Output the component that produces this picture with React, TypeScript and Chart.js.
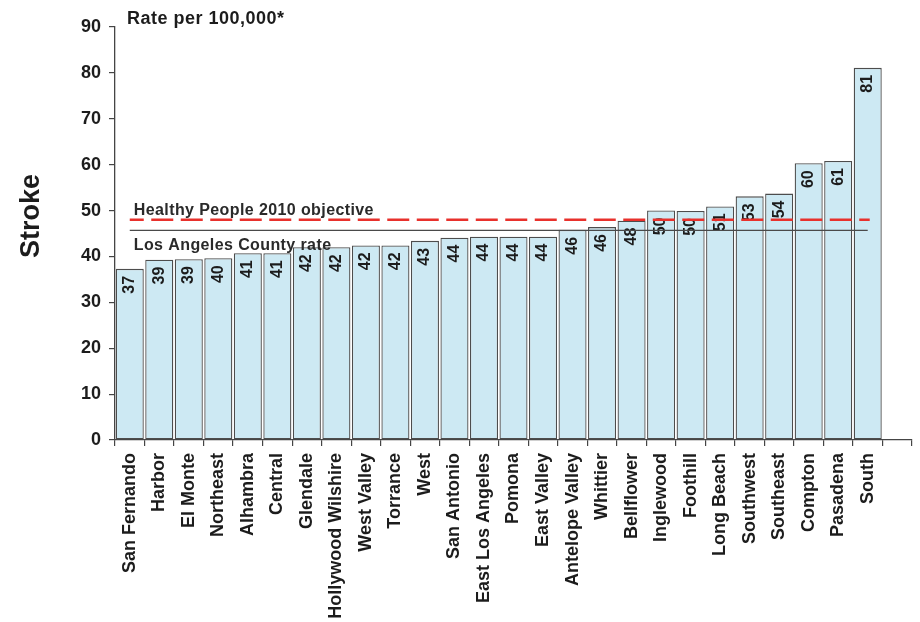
import React, { useEffect, useRef } from "react";
import { Chart, registerables } from "chart.js";

Chart.register(...registerables);

const FONT = '"Liberation Sans", Arial, Helvetica, sans-serif';

const CATEGORIES = [
  "San Fernando", "Harbor", "El Monte", "Northeast", "Alhambra", "Central",
  "Glendale", "Hollywood Wilshire", "West Valley", "Torrance", "West",
  "San Antonio", "East Los Angeles", "Pomona", "East Valley", "Antelope Valley",
  "Whittier", "Bellflower", "Inglewood", "Foothill", "Long Beach", "Southwest",
  "Southeast", "Compton", "Pasadena", "South", "",
];

const RATES = [
  37.3, 39.3, 39.4, 39.6, 40.7, 40.7, 42.0, 42.0, 42.4, 42.4, 43.4, 44.1, 44.3,
  44.3, 44.3, 45.8, 46.4, 47.8, 50.0, 49.9, 50.9, 53.1, 53.7, 60.3, 60.8, 81.1,
];

const Y_MIN = 0;
const Y_MAX = 90;
const Y_STEP = 10;

const HP_OBJECTIVE = 48.0;
const LA_COUNTY_RATE = 45.7;

const HP_LABEL = "Healthy People 2010 objective";
const LA_LABEL = "Los Angeles County rate";
const Y_TITLE = "Stroke";
const UNIT_TITLE = "Rate per 100,000*";

const TEXT = "#1c1c1c";
const AXIS = "#454545";

const overlayPlugin = {
  id: "overlay",
  afterDatasetsDraw(chart: any) {
    const { ctx } = chart;
    const x = chart.scales.x;
    const y = chart.scales.y;
    const meta = chart.getDatasetMeta(0);

    // value labels inside bars
    ctx.save();
    ctx.font = `bold 16px ${FONT}`;
    ctx.fillStyle = TEXT;
    meta.data.forEach((bar: any, i: number) => {
      const v = RATES[i];
      if (v == null) return;
      ctx.save();
      ctx.translate(bar.x, bar.y + 7);
      ctx.rotate(-Math.PI / 2);
      ctx.textAlign = "right";
      ctx.textBaseline = "middle";
      ctx.fillText(String(Math.round(v)), 0, 0);
      ctx.restore();
    });
    ctx.restore();

    // reference lines
    const x0 = x.getPixelForValue(0);
    const x1 = x.getPixelForValue(RATES.length - 1);
    const yLA = y.getPixelForValue(LA_COUNTY_RATE);
    const yHP = y.getPixelForValue(HP_OBJECTIVE);

    ctx.save();
    ctx.strokeStyle = "#4a4a4a";
    ctx.lineWidth = 1.3;
    ctx.beginPath();
    ctx.moveTo(x0, yLA);
    ctx.lineTo(x1, yLA);
    ctx.stroke();

    ctx.strokeStyle = "#e8312c";
    ctx.lineWidth = 2.5;
    ctx.setLineDash([22, 7.5]);
    ctx.lineDashOffset = 8;
    ctx.beginPath();
    ctx.moveTo(x0, yHP);
    ctx.lineTo(x1 + 2, yHP);
    ctx.stroke();
    ctx.restore();

    // reference line labels
    ctx.save();
    ctx.font = `bold 16px ${FONT}`;
    (ctx as any).letterSpacing = "0.4px";
    ctx.fillStyle = "#2a2a2a";
    ctx.textAlign = "left";
    ctx.textBaseline = "alphabetic";
    ctx.fillText(HP_LABEL, x0 + 4, yHP - 5);
    ctx.fillText(LA_LABEL, x0 + 4, yLA + 20);
    (ctx as any).letterSpacing = "0px";
    ctx.restore();
  },
  afterDraw(chart: any) {
    const { ctx } = chart;
    ctx.save();
    ctx.fillStyle = TEXT;
    ctx.font = `bold 27px ${FONT}`;
    ctx.translate(32, 216);
    ctx.rotate(-Math.PI / 2);
    ctx.textAlign = "center";
    ctx.textBaseline = "middle";
    ctx.fillText(Y_TITLE, 0, 0);
    ctx.restore();

    ctx.save();
    ctx.fillStyle = TEXT;
    ctx.font = `bold 18px ${FONT}`;
    (ctx as any).letterSpacing = "0.5px";
    ctx.textAlign = "left";
    ctx.textBaseline = "alphabetic";
    ctx.fillText(UNIT_TITLE, 127, 24);
    (ctx as any).letterSpacing = "0px";
    ctx.restore();
  },
};

export default function App() {
  const canvasRef = useRef<HTMLCanvasElement | null>(null);

  useEffect(() => {
    const canvas = canvasRef.current;
    if (!canvas) return;
    const chart = new Chart(canvas, {
      type: "bar",
      data: {
        labels: CATEGORIES,
        datasets: [
          {
            data: [...RATES, null],
            backgroundColor: "#cde9f3",
            borderColor: "#4d4d4d",
            borderWidth: 1.3,
            borderSkipped: false,
            categoryPercentage: 1,
            barPercentage: 0.95,
          } as any,
        ],
      },
      options: {
        responsive: false,
        animation: false,
        devicePixelRatio: 1,
        layout: { padding: { top: 27, right: 8, left: 0, bottom: 0 } },
        plugins: {
          legend: { display: false },
          tooltip: { enabled: false },
          title: { display: false },
        },
        scales: {
          x: {
            type: "category",
            offset: true,
            grid: {
              display: true,
              drawOnChartArea: false,
              drawTicks: true,
              tickLength: 6,
              offset: true,
              color: AXIS,
              lineWidth: 1.2,
            },
            border: { display: true, color: AXIS, width: 1.3 },
            ticks: {
              autoSkip: false,
              maxRotation: 90,
              minRotation: 90,
              padding: 7,
              color: TEXT,
              font: { family: FONT, size: 18, weight: "bold" },
            },
            afterFit: (s: any) => {
              s.height = 182;
              s.paddingLeft = 0;
              s.paddingRight = 0;
            },
          },
          y: {
            min: Y_MIN,
            max: Y_MAX,
            ticks: {
              stepSize: Y_STEP,
              padding: 8,
              color: TEXT,
              font: { family: FONT, size: 18, weight: "bold" },
            },
            grid: {
              drawOnChartArea: false,
              drawTicks: true,
              tickLength: 6,
              color: AXIS,
              lineWidth: 1.2,
            },
            border: { display: true, color: AXIS, width: 1.3 },
            afterFit: (s: any) => {
              s.width = 115;
            },
          },
        },
      } as any,
      plugins: [overlayPlugin],
    });
    return () => chart.destroy();
  }, []);

  return (
    <div
      style={{
        position: "fixed",
        left: 0,
        top: 0,
        width: 920,
        height: 622,
        background: "#ffffff",
      }}
    >
      <canvas ref={canvasRef} width={920} height={622} style={{ display: "block" }} />
    </div>
  );
}
